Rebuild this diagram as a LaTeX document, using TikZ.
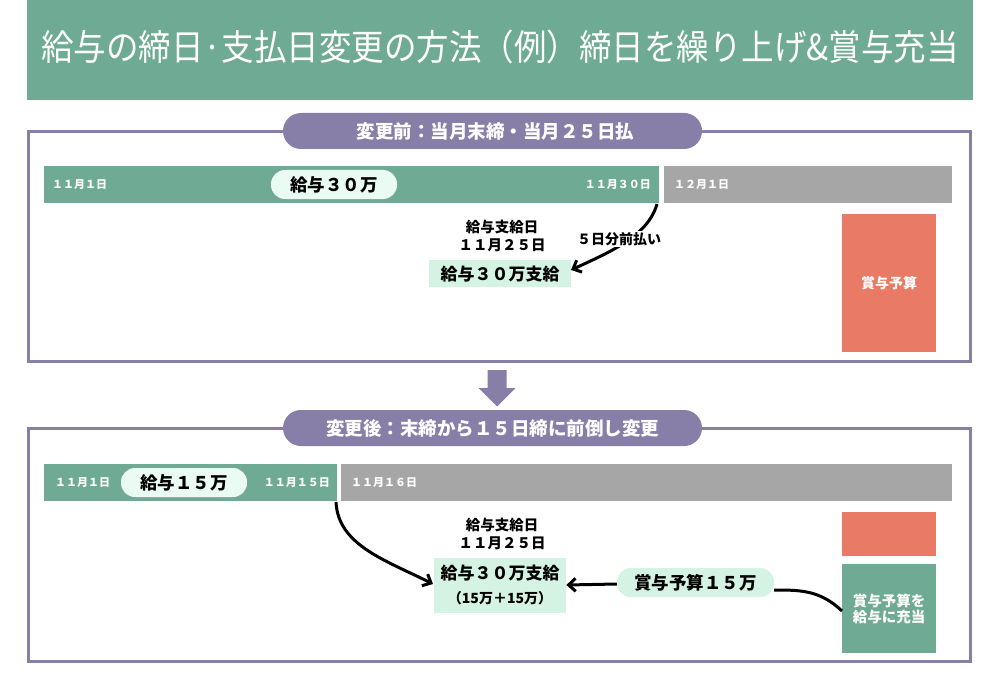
\documentclass[tikz,border=0pt]{standalone}
\usepackage{fontspec}
\setmainfont{Noto Sans CJK JP}
\usetikzlibrary{arrows.meta}
\definecolor{tgreen}{RGB}{111,170,148}
\definecolor{tpurple}{RGB}{135,127,168}
\definecolor{tgray}{RGB}{166,166,166}
\definecolor{tred}{RGB}{232,122,102}
\definecolor{tmint}{RGB}{213,243,226}
\definecolor{tpale}{RGB}{234,251,243}
\newcommand{\fsz}[1]{\fontsize{#1}{#1}\selectfont}
\tikzset{
  blk/.style={draw=none, inner sep=0pt, outer sep=0pt, anchor=north west},
  frame/.style={draw=tpurple, line width=3pt, fill=white},
  pilltitle/.style={fill=tpurple, text=white, rounded corners=18pt, inner sep=0pt, font=\bfseries\fsz{18.5}},
  datelbl/.style={text=white, inner sep=0pt, font=\bfseries\fsz{11}},
  pill/.style={fill=tpale, rounded corners=14pt, inner sep=0pt, font=\bfseries\fsz{17.5}},
  mintbox/.style={fill=tmint, inner sep=0pt, anchor=north west},
  lbl/.style={inner sep=0pt, align=center, font=\bfseries\fsz{14}},
  conn/.style={line width=3pt, -{Straight Barb[length=7pt,width=13pt,line width=3pt]}},
  connplain/.style={line width=3pt},
}
\begin{document}
\begin{tikzpicture}[x=1pt,y=-1pt]
\useasboundingbox (0,0) rectangle (1000,687);
% title
\node[blk, fill=tgreen, minimum width=946pt, minimum height=100pt] (title) at (27,0) {};
\node[text=white, inner sep=0pt, font=\fsz{32.5}] (titletext) at (500,47) {\scalebox{1}[1.1]{給与の締日·支払日変更の方法（例）締日を繰り上げ\&賞与充当}};

% ---------- box 1
\draw[frame] (28,132) rectangle (970,361);
\node[pilltitle, minimum width=419pt, minimum height=36pt] (p1) at (492.5,131) {\hspace{6pt}変更前：当月末締・当月２５日払};
\node[blk, fill=tgreen, minimum width=615pt, minimum height=37pt] (g1) at (44,166) {};
\node[blk, fill=tgray, minimum width=288pt, minimum height=37pt] (gr1) at (664,166) {};
\node[datelbl, anchor=west] (d11) at (52,185) {１１月１日};
\node[datelbl, anchor=east] (d130) at (651,185) {１１月３０日};
\node[datelbl, anchor=west] (d121) at (674,185) {１２月１日};
\node[pill, minimum width=126pt, minimum height=29pt] (s30) at (334,184.5) {給与３０万};
\node[blk, fill=tred, minimum width=94pt, minimum height=138pt] (r1) at (842,214) {};
\node[text=white, font=\bfseries\fsz{14}, inner sep=0pt] (r1t) at (r1.center) {賞与予算};
\node[lbl, font=\bfseries\fsz{14.5}] (pay1) at (502,236) {給与支給日\\[3pt]１１月２５日};
\node[mintbox, minimum width=142pt, minimum height=27pt] (m1) at (429,260) {};
\node[font=\bfseries\fsz{17}, inner sep=0pt] (m1t) at (m1.center) {給与３０万支給};
\coordinate (a1s) at (657,204);
\coordinate (a1e) at (571,270);
\draw[conn] (a1s) .. controls (648,236) and (610,252) .. (a1e);
\node[lbl, fill=white, inner sep=1.5pt] (adv) at (619,239) {５日分前払い};

% down arrow
\fill[tpurple] (487.5,370) -- (506.5,370) -- (506.5,388) -- (515.5,388) -- (497,406.5) -- (478.5,388) -- (487.5,388) -- cycle;

% ---------- box 2
\draw[frame] (28,428) rectangle (970,661);
\node[pilltitle, minimum width=419pt, minimum height=36pt] (p2) at (492.5,428) {変更後：末締から１５日締に前倒し変更};
\node[blk, fill=tgreen, minimum width=293pt, minimum height=37pt] (g2) at (44,464) {};
\node[blk, fill=tgray, minimum width=611pt, minimum height=37pt] (gr2) at (341,464) {};
\node[datelbl, anchor=west] (e11) at (55,483) {１１月１日};
\node[datelbl, anchor=east] (e115) at (330,483) {１１月１５日};
\node[datelbl, anchor=west] (e116) at (351,483) {１１月１６日};
\node[pill, minimum width=126pt, minimum height=29pt] (s15) at (184,482.5) {給与１５万};
\node[lbl, font=\bfseries\fsz{14.5}] (pay2) at (502,534) {給与支給日\\[3pt]１１月２５日};
\node[mintbox, minimum width=132pt, minimum height=55pt] (m2) at (434,558) {};
\node[font=\bfseries\fsz{17}, inner sep=0pt] (m2t) at (500,573) {給与３０万支給};
\node[font=\bfseries\fsz{14}, inner sep=0pt] (m2s) at (500,598) {（15万＋15万）};
\node[blk, fill=tred, minimum width=94pt, minimum height=44pt] (r2) at (842,512) {};
\node[blk, fill=tgreen, minimum width=94pt, minimum height=89pt] (gb) at (842,564) {};
\node[text=white, font=\bfseries\fsz{14.5}, inner sep=0pt, align=center] (gbt) at (889,609) {賞与予算を\\[1pt]給与に充当};
\coordinate (a2s) at (336,502);
\coordinate (a2e) at (433,584);
\draw[conn] (a2s) .. controls (338,545) and (385,560) .. (a2e);
\node[pill, fill=tmint, minimum width=157pt, minimum height=29pt] (b15) at (695.5,582.5) {賞与予算１５万};
\draw[connplain] (gb.west |- 0,611) .. controls (820,590) and (800,590) .. (b15.east |- 0,590);
\draw[conn] (b15.west |- 0,584) -- (m2.east |- 0,585);
\end{tikzpicture}
\end{document}
